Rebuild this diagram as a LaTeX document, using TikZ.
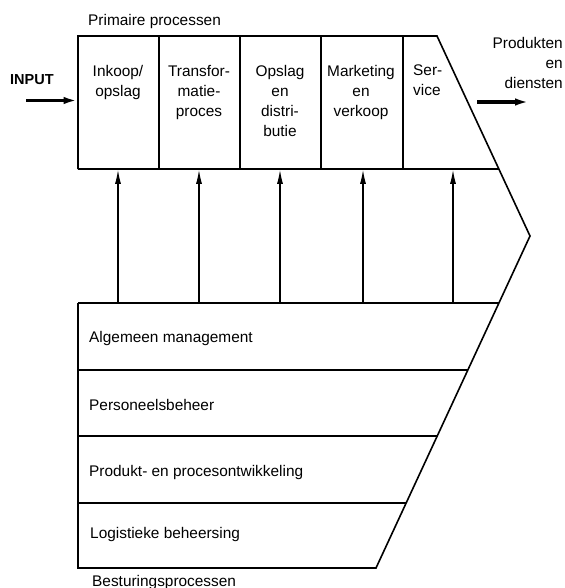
\documentclass[tikz,border=0pt]{standalone}
\usepackage{fontspec}
\setmainfont{Liberation Sans}
\usetikzlibrary{arrows.meta}
\begin{document}
\begin{tikzpicture}[x=1pt,y=-1pt,
  frame/.style={line width=1.6pt, line join=miter},
  divider/.style={line width=1.4pt},
  lbl/.style={inner sep=0pt, font=\fontsize{15.4}{20}\selectfont},
  celltext/.style={lbl, align=center, anchor=north},
  uparrow/.style={line width=1.2pt, -{Latex[length=14pt,width=6pt]}},
  bigarrow/.style={line width=3.6pt, -{Latex[length=14pt,width=7.5pt]}}]
\useasboundingbox (0,0) rectangle (564,588);
% outline coordinates
\coordinate (TL) at (78,36);
\coordinate (TR) at (437,36);
\coordinate (tip) at (530,236);
\coordinate (BR) at (376,568);
\coordinate (BL) at (78,568);
\coordinate (pL) at (78,169);
\coordinate (pR) at (498.8,169);
\coordinate (sL) at (78,303);
\coordinate (sR) at (498.9,303);
% outline
\draw[frame] (pL) -- (TL) -- (TR) -- (tip) -- (BR) -- (BL) -- (sL);
\draw[frame] (pL) -- (pR);
\draw[frame] (sL) -- (sR);
% bottom dividers
\draw[divider] (78,370) -- (467.8,370);
\draw[divider] (78,436) -- (437.2,436);
\draw[divider] (78,503) -- (406.2,503);
% top dividers
\foreach \x in {159,240,321,403} \draw[divider] (\x,36) -- (\x,169);
% vertical arrows
\foreach \i/\x in {1/118,2/199,3/280,4/363,5/453} {
  \coordinate (s\i) at (\x,303);
  \coordinate (t\i) at (\x,169.8);
  \draw[uparrow] (s\i) -- (t\i);
}
% input / output arrows
\coordinate (inS) at (26,100.5);
\coordinate (inE) at (77.5,100.5);
\draw[bigarrow] (inS) -- (inE);
\coordinate (outS) at (477,102);
\coordinate (outE) at (529,102);
\draw[bigarrow] (outS) -- (outE);
% labels
\node[lbl, anchor=base west] (prim) at (88,26) {Primaire processen};
\node[lbl, anchor=base west, font=\fontsize{14.5}{20}\selectfont\bfseries] (input) at (10,84.5) {INPUT};
\node[lbl, align=right, anchor=north east] (out) at (563,37) {Produkten\\en\\diensten};
\node[celltext] (c1) at (118,65) {Inkoop/\\opslag};
\node[celltext] (c2) at (199,65) {Transfor-\\matie-\\proces};
\node[celltext] (c3) at (280,65) {Opslag\\en\\distri-\\butie};
\node[celltext] (c4) at (361,65) {Marketing\\en\\verkoop};
\node[lbl, align=left, anchor=north west] (c5) at (413,65) {Ser-\\vice};
\node[lbl, anchor=base west] (b1) at (89,342) {Algemeen management};
\node[lbl, anchor=base west] (b2) at (89,410) {Personeelsbeheer};
\node[lbl, anchor=base west] (b3) at (89,476) {Produkt- en procesontwikkeling};
\node[lbl, anchor=base west] (b4) at (90,538) {Logistieke beheersing};
\node[lbl, anchor=base west] (b5) at (92,586) {Besturingsprocessen};
\end{tikzpicture}
\end{document}
